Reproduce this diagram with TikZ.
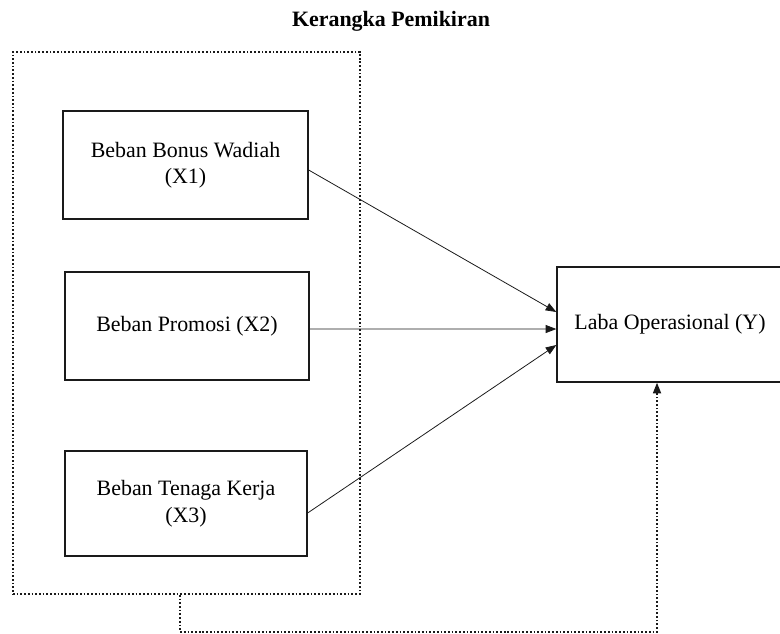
\documentclass[tikz,border=0pt]{standalone}
\usepackage{fontspec}
\setmainfont{Liberation Serif}
\usetikzlibrary{arrows.meta,positioning,calc}
\definecolor{ink}{HTML}{1A1A1A}

\begin{document}
\begin{tikzpicture}[font=\fontsize{16.5}{20}\selectfont,>={Triangle[length=8pt,width=6pt]},
    varbox/.style={draw=ink,line width=1pt,align=center,inner sep=0pt},
    dotline/.style={draw=ink,line width=1.3pt,dash pattern=on 1.3pt off 1.5pt},
    link/.style={->,draw=ink,line width=0.6pt}]
  \useasboundingbox (0,0) rectangle (20.637,-16.748);
  \node[font=\fontsize{16.5}{20}\selectfont\bfseries,anchor=base] (title) at (10.345,-0.714)
    {Kerangka Pemikiran};

  % independent variables
  \node[dotline,minimum width=9.181cm,minimum height=14.340cm] (frame) at (4.934,-8.546) {};
  \node[varbox,minimum width=6.482cm,minimum height=2.857cm] (x1) at (4.908,-4.366)
    {Beban Bonus Wadiah\\(X1)};
  \node[varbox,minimum width=6.456cm,minimum height=2.857cm] (x2) at (4.948,-8.625)
    {Beban Promosi (X2)};
  \node[varbox,minimum width=6.403cm,minimum height=2.778cm] (x3) at (4.921,-13.321)
    {Beban Tenaga Kerja\\(X3)};

  % dependent variable
  \node[varbox,minimum width=5.98cm,minimum height=3.043cm] (y) at (17.727,-8.586)
    {Laba Operasional (Y)};

  \draw[link] ($(x1.east)+(0,-0.132)$) -- ($(y.west)+(0,0.331)$);
  \draw[link] ($(x2.east)+(0,-0.079)$) -- ($(y.west)+(0,-0.119)$);
  \draw[link] ($(x3.east)+(0,-0.251)$) -- ($(y.west)+(0,-0.542)$);

  % simultaneous effect
  \coordinate (turn) at ($(frame.south)+(-0.172,-0.979)$);
  \draw[dotline,->] ($(frame.south)+(-0.172,0)$) -- (turn) -| ($(y.south)+(-0.344,0)$);
\end{tikzpicture}
\end{document}
